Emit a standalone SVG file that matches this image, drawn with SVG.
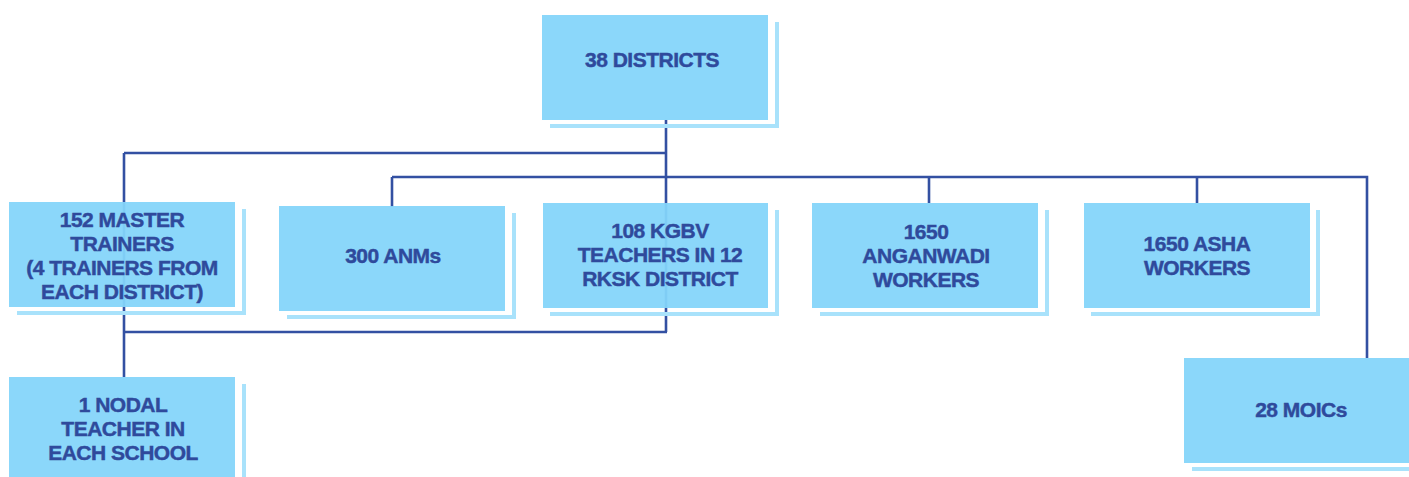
<svg xmlns="http://www.w3.org/2000/svg" width="1409" height="477" viewBox="0 0 1409 477">
<defs>
<style>
.box{fill:#84d5fa;fill-opacity:0.94}
.sh{fill:#a9e2fb}
.t{font-family:"Liberation Sans",Arial,sans-serif;font-weight:bold;font-size:21px;fill:#2f4a9c;stroke:#2f4a9c;stroke-width:0.45;text-anchor:middle;letter-spacing:-0.5px}
.c{fill:none;stroke:#3350a2;stroke-width:2.6}
</style>
</defs>
<rect width="1409" height="477" fill="#ffffff"/>
<g id="connectors">
<path class="c" d="M666 120 V332"/>
<path class="c" d="M124 153 H666"/>
<path class="c" d="M124 153 V377"/>
<path class="c" d="M124 332 H667"/>
<path class="c" d="M392 177 H1367 V358"/>
<path class="c" d="M392 177 V207"/>
<path class="c" d="M929 177 V203"/>
<path class="c" d="M1197 177 V203"/>
</g>
<g id="districts">
<rect class="sh" x="775" y="22" width="4" height="106"/>
<rect class="sh" x="550" y="124" width="229" height="4"/>
<rect class="box" x="542" y="15" width="226" height="105"/>
<text class="t" x="652" y="67">38 DISTRICTS</text>
</g>
<g id="master-trainers">
<rect class="sh" x="242" y="209" width="4" height="106"/>
<rect class="sh" x="17" y="311" width="229" height="4"/>
<rect class="box" x="9" y="202" width="226" height="105"/>
<text class="t" x="122" y="227">152 MASTER</text>
<text class="t" x="122" y="251">TRAINERS</text>
<text class="t" x="122" y="275">(4 TRAINERS FROM</text>
<text class="t" x="122" y="299">EACH DISTRICT)</text>
</g>
<g id="anms">
<rect class="sh" x="512" y="213" width="4" height="106"/>
<rect class="sh" x="287" y="315" width="229" height="4"/>
<rect class="box" x="279" y="206" width="226" height="105"/>
<text class="t" x="393" y="263">300 ANMs</text>
</g>
<g id="kgbv">
<rect class="sh" x="775" y="210" width="4" height="106"/>
<rect class="sh" x="550" y="312" width="229" height="4"/>
<rect class="box" x="543" y="203" width="225" height="105"/>
<text class="t" x="660" y="238">108 KGBV</text>
<text class="t" x="660" y="262">TEACHERS IN 12</text>
<text class="t" x="660" y="286">RKSK DISTRICT</text>
</g>
<g id="anganwadi">
<rect class="sh" x="1045" y="210" width="4" height="106"/>
<rect class="sh" x="820" y="312" width="229" height="4"/>
<rect class="box" x="812" y="203" width="226" height="105"/>
<text class="t" x="926" y="239">1650</text>
<text class="t" x="926" y="263">ANGANWADI</text>
<text class="t" x="926" y="287">WORKERS</text>
</g>
<g id="asha">
<rect class="sh" x="1316" y="210" width="4" height="106"/>
<rect class="sh" x="1091" y="312" width="229" height="4"/>
<rect class="box" x="1084" y="203" width="226" height="105"/>
<text class="t" x="1197" y="251">1650 ASHA</text>
<text class="t" x="1197" y="275">WORKERS</text>
</g>
<g id="nodal-teacher">
<rect class="sh" x="242" y="384" width="4" height="100"/>
<rect class="box" x="9" y="377" width="226" height="105"/>
<text class="t" x="123" y="412">1 NODAL</text>
<text class="t" x="123" y="436">TEACHER IN</text>
<text class="t" x="123" y="460">EACH SCHOOL</text>
</g>
<g id="moics">
<rect class="sh" x="1192" y="467" width="229" height="4"/>
<rect class="box" x="1184" y="358" width="226" height="105"/>
<text class="t" x="1301" y="417">28 MOICs</text>
</g>
</svg>
